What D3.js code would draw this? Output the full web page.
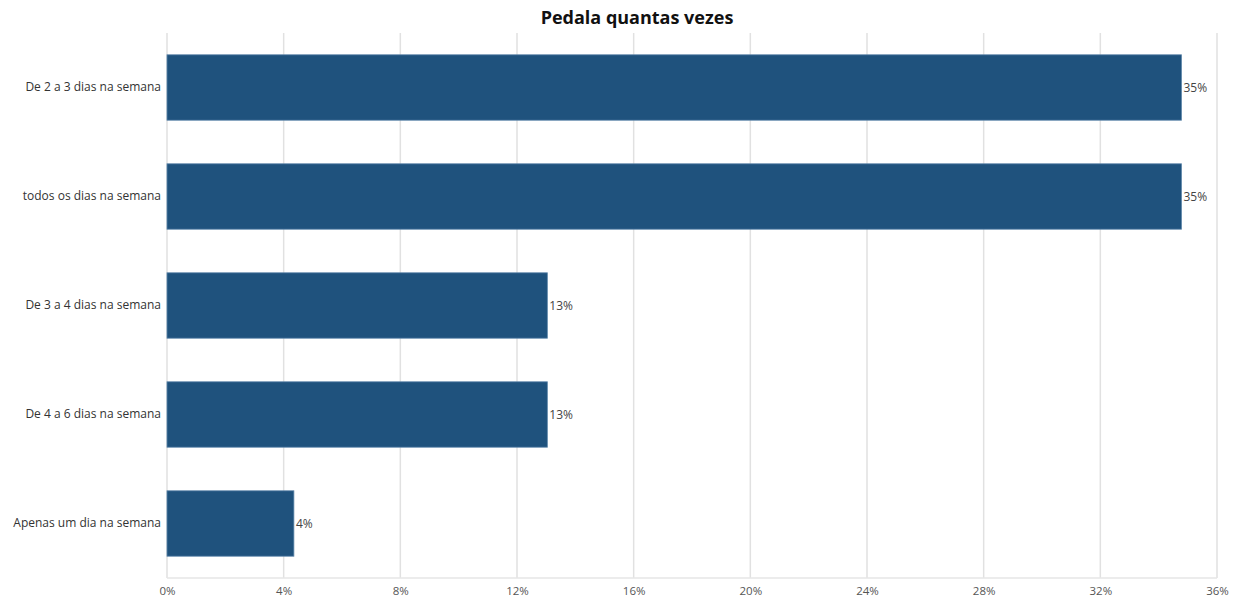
<!DOCTYPE html>
<html>
<head>
<meta charset="utf-8">
<script src="https://cdn.jsdelivr.net/npm/d3@7"></script>
<style>
  html, body { margin: 0; padding: 0; background: #fff; }
  svg { display: block; }
  svg text { font-family: "Open Sans", sans-serif; }
</style>
</head>
<body>
<svg id="chart" width="1240" height="599"></svg>
<script>
// Answers to "Pedala quantas vezes" (share of respondents, %)
const categories = [
  "De 2 a 3 dias na semana",
  "todos os dias na semana",
  "De 3 a 4 dias na semana",
  "De 4 a 6 dias na semana",
  "Apenas um dia na semana"
];
const shares = [34.78, 34.78, 13.04, 13.04, 4.35];
const tickValues = [0, 4, 8, 12, 16, 20, 24, 28, 32, 36];

const data = categories.map((c, i) => ({ category: c, value: shares[i] }));

const svg = d3.select("#chart");
const margin = { top: 33, right: 23, bottom: 21, left: 167 };
const width = 1240 - margin.left - margin.right;
const height = 599 - margin.top - margin.bottom;

const x = d3.scaleLinear().domain([0, 36]).range([0, width]);
const y = d3.scaleBand().domain(categories).range([0, height])
  .paddingInner(0.4).paddingOuter(0.2);

const g = svg.append("g").attr("transform", `translate(${margin.left},${margin.top})`);

// Vertical gridlines
g.append("g")
  .selectAll("line")
  .data(tickValues)
  .join("line")
  .attr("x1", d => x(d)).attr("x2", d => x(d))
  .attr("y1", 0).attr("y2", height)
  .attr("stroke", "#e1e1e1")
  .attr("stroke-width", 1.5);

// Baseline
g.append("line")
  .attr("x1", 0).attr("x2", width)
  .attr("y1", height).attr("y2", height)
  .attr("stroke", "#e6e6e6")
  .attr("stroke-width", 1.5);

// X axis tick labels
const xAxis = d3.axisBottom(x).tickValues(tickValues).tickSize(0).tickPadding(9)
  .tickFormat(d => d + "%");
const xg = g.append("g").attr("transform", `translate(0,${height})`).call(xAxis)
  .attr("font-family", null);
xg.select(".domain").remove();
xg.selectAll("text").attr("fill", "#555").attr("font-size", "11.5px");

// Y axis category labels
const yAxis = d3.axisLeft(y).tickSize(0).tickPadding(6);
const yg = g.append("g").call(yAxis).attr("font-family", null);
yg.select(".domain").remove();
yg.selectAll("text").attr("fill", "#333").attr("font-size", "12px");

// Bars
g.append("g")
  .selectAll("rect")
  .data(data)
  .join("rect")
  .attr("x", x(0))
  .attr("y", d => y(d.category))
  .attr("width", d => x(d.value) - x(0))
  .attr("height", y.bandwidth())
  .attr("fill", "#1f527d")
  .attr("stroke", "#5b84a8")
  .attr("stroke-width", 0.8);

// Value labels
g.append("g")
  .selectAll("text")
  .data(data)
  .join("text")
  .attr("x", d => x(d.value) + 2)
  .attr("y", d => y(d.category) + y.bandwidth() / 2)
  .attr("dy", "0.35em")
  .attr("fill", "#444")
  .attr("font-size", "12px")
  .text(d => Math.round(d.value) + "%");

// Title
svg.append("text")
  .attr("x", 637)
  .attr("y", 24)
  .attr("text-anchor", "middle")
  .attr("font-size", "18px")
  .attr("font-weight", "bold")
  .attr("fill", "#111")
  .text("Pedala quantas vezes");
</script>
</body>
</html>
